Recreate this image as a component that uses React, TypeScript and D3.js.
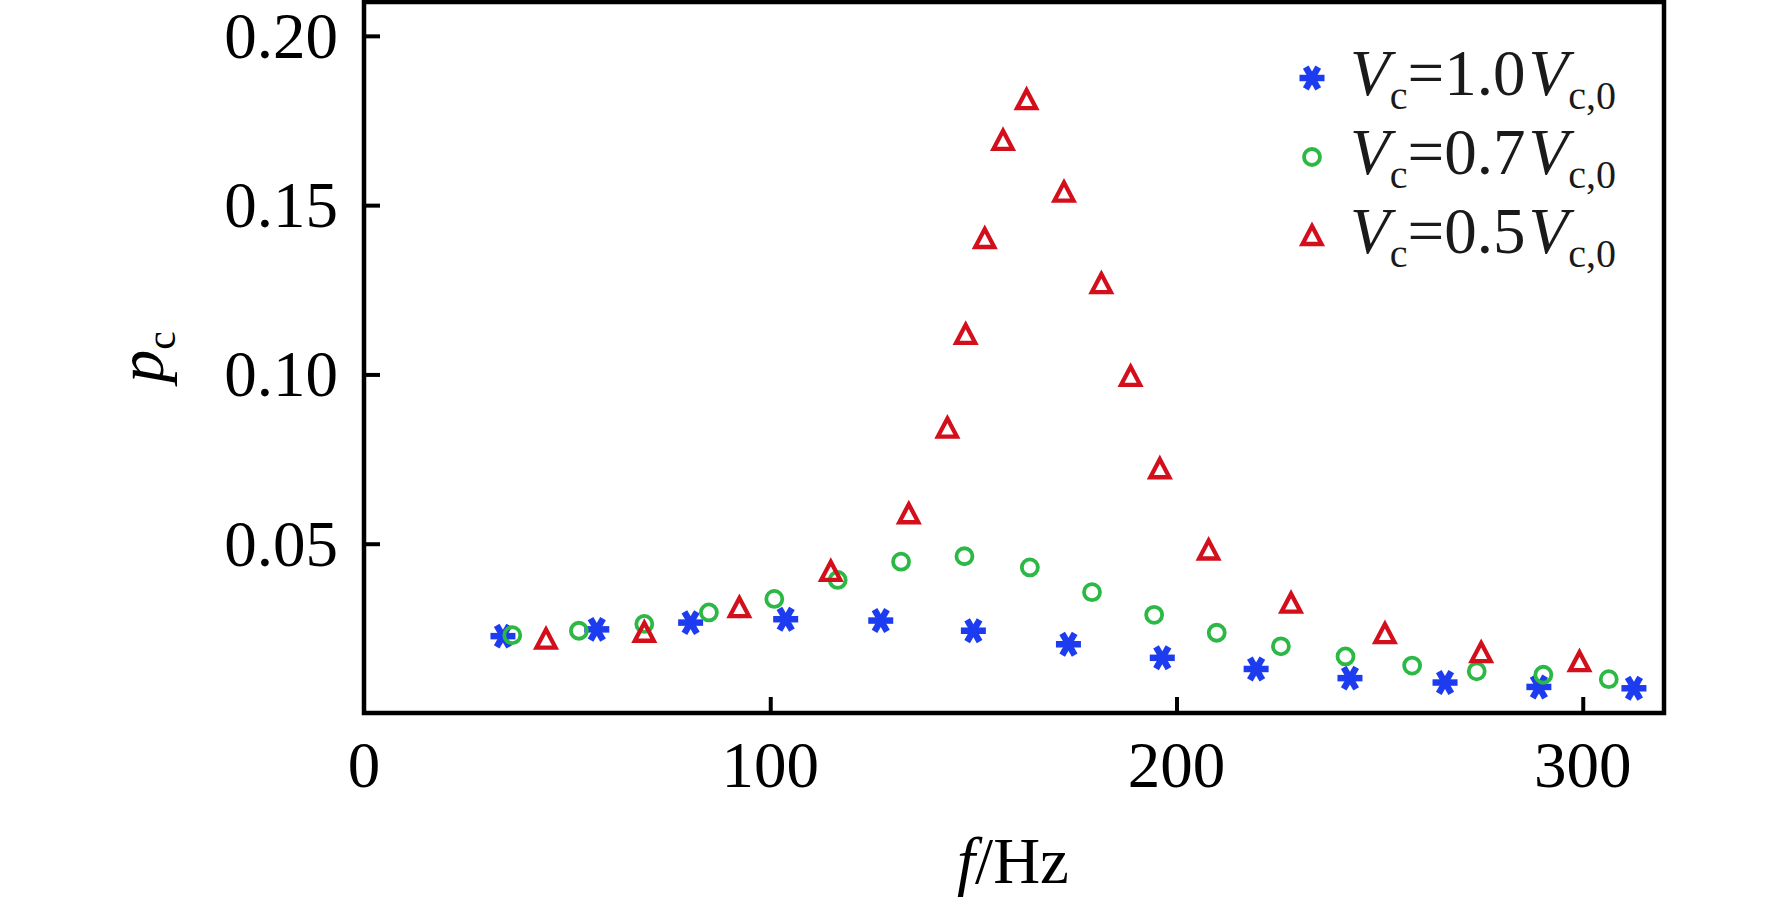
import { useEffect, useRef } from "react";
import * as d3 from "d3";

// frequencies (Hz) and p_c values
const starF = [34.2, 57.3, 80.4, 103.8, 127.2, 150.0, 173.4, 196.5, 219.6, 242.7, 266.1, 289.2, 312.6];
const starP = [0.0227, 0.0247, 0.0267, 0.0277, 0.0273, 0.0243, 0.0203, 0.0163, 0.013, 0.0103, 0.009, 0.0077, 0.0073];

const circF = [36.5, 52.9, 69.0, 84.9, 101.0, 116.6, 132.2, 147.8, 163.9, 179.2, 194.5, 209.9, 225.7, 241.6, 258.0, 273.9, 290.3, 306.4];
const circP = [0.023, 0.0243, 0.0263, 0.0297, 0.0337, 0.0393, 0.0447, 0.0463, 0.043, 0.0357, 0.029, 0.0237, 0.0197, 0.0167, 0.014, 0.0123, 0.0113, 0.01];

const triF = [44.8, 69.0, 92.4, 114.9, 134.1, 143.6, 148.1, 152.8, 157.3, 163.1, 172.3, 181.5, 188.7, 195.9, 207.9, 228.2, 251.3, 275.0, 299.2];
const triP = [0.0217, 0.0237, 0.031, 0.0417, 0.0587, 0.084, 0.1117, 0.14, 0.169, 0.181, 0.1537, 0.1267, 0.0993, 0.072, 0.048, 0.0323, 0.0233, 0.0177, 0.015];

const xTicks = [0, 100, 200, 300];
const yTicks = [0.05, 0.1, 0.15, 0.2];
const legendRatios = ["1.0", "0.7", "0.5"];

const BLUE = "#1d3cf0";
const GREEN = "#2cb845";
const RED = "#d40f1c";
const FONT = "'Liberation Serif', 'Times New Roman', serif";

type Kind = "star" | "circle" | "tri";

function drawMarker(g: d3.Selection<SVGGElement, unknown, null, undefined>, kind: Kind, cx: number, cy: number) {
  if (kind === "star") {
    const r = 12.5;
    const angles = [0, 60, 120];
    angles.forEach((a) => {
      const rad = (a * Math.PI) / 180;
      g.append("line")
        .attr("x1", cx - r * Math.cos(rad))
        .attr("y1", cy - r * Math.sin(rad))
        .attr("x2", cx + r * Math.cos(rad))
        .attr("y2", cy + r * Math.sin(rad))
        .attr("stroke", BLUE)
        .attr("stroke-width", 6.5);
    });
  } else if (kind === "circle") {
    g.append("circle")
      .attr("cx", cx)
      .attr("cy", cy)
      .attr("r", 8)
      .attr("fill", "none")
      .attr("stroke", GREEN)
      .attr("stroke-width", 3.8);
  } else {
    const s = 10;
    g.append("path")
      .attr("d", `M${cx},${cy - s}L${cx + s * 0.95},${cy + s * 0.8}L${cx - s * 0.95},${cy + s * 0.8}Z`)
      .attr("fill", "none")
      .attr("stroke", RED)
      .attr("stroke-width", 4.3)
      .attr("stroke-linejoin", "miter");
  }
}

export default function App() {
  const svgRef = useRef<SVGSVGElement | null>(null);

  useEffect(() => {
    if (!svgRef.current) return;
    const svg = d3.select(svgRef.current);
    svg.selectAll("*").remove();

    const left = 364, right = 1664, top = 2, bottom = 713;

    const x = d3.scaleLinear().domain([0, 320]).range([left, right]);
    const y = d3.scaleLinear().domain([0, 0.21]).range([bottom, top]);

    const g = svg.append("g");

    // ticks (inward)
    g.append("g")
      .attr("transform", `translate(0,${bottom})`)
      .call(d3.axisBottom(x).tickValues(xTicks.slice(1)).tickSizeInner(-16).tickSizeOuter(0).tickFormat(() => ""))
      .call((a) => a.select(".domain").remove())
      .call((a) => a.selectAll("line").attr("stroke", "#000").attr("stroke-width", 4));

    g.append("g")
      .attr("transform", `translate(${left},0)`)
      .call(d3.axisLeft(y).tickValues(yTicks).tickSizeInner(-16).tickSizeOuter(0).tickFormat(() => ""))
      .call((a) => a.select(".domain").remove())
      .call((a) => a.selectAll("line").attr("stroke", "#000").attr("stroke-width", 4));

    // frame
    g.append("rect")
      .attr("x", left)
      .attr("y", top)
      .attr("width", right - left)
      .attr("height", bottom - top)
      .attr("fill", "none")
      .attr("stroke", "#000")
      .attr("stroke-width", 4.5);

    // tick labels
    g.selectAll(".xt")
      .data(xTicks)
      .join("text")
      .attr("x", (d) => x(d))
      .attr("y", 787)
      .attr("text-anchor", "middle")
      .attr("font-family", FONT)
      .attr("font-size", 65)
      .text((d) => d3.format("d")(d));

    g.selectAll(".yt")
      .data(yTicks)
      .join("text")
      .attr("x", 338)
      .attr("y", (d) => y(d) + 22)
      .attr("text-anchor", "end")
      .attr("font-family", FONT)
      .attr("font-size", 65)
      .text((d) => d3.format(".2f")(d));

    // axis titles
    const xl = g.append("text")
      .attr("x", 1013)
      .attr("y", 883)
      .attr("text-anchor", "middle")
      .attr("font-family", FONT)
      .attr("font-size", 65);
    xl.append("tspan").attr("font-style", "italic").text("f");
    xl.append("tspan").text("/Hz");

    const yl = g.append("text")
      .attr("transform", "translate(163,357) rotate(-90)")
      .attr("text-anchor", "middle")
      .attr("font-family", FONT)
      .attr("font-size", 66);
    yl.append("tspan").attr("font-style", "italic").text("p");
    yl.append("tspan").attr("font-size", 42).attr("dy", 12).text("c");

    // points
    const pts = g.append("g");
    starF.forEach((f, i) => drawMarker(pts, "star", x(f), y(starP[i])));
    circF.forEach((f, i) => drawMarker(pts, "circle", x(f), y(circP[i])));
    triF.forEach((f, i) => drawMarker(pts, "tri", x(f), y(triP[i])));

    // legend
    const kinds: Kind[] = ["star", "circle", "tri"];
    const lg = g.append("g");
    legendRatios.forEach((r, i) => {
      const base = 95 + i * 79;
      drawMarker(lg, kinds[i], 1312, base - 17);
      const t = lg.append("text")
        .attr("x", 1350)
        .attr("y", base)
        .attr("font-family", FONT)
        .attr("font-size", 65)
        .attr("fill", "#1a1a1a");
      t.append("tspan").attr("font-style", "italic").text("V");
      t.append("tspan").attr("font-size", 40).attr("dy", 14).text("c");
      t.append("tspan").attr("dy", -14).text(`=${r}`);
      t.append("tspan").attr("font-style", "italic").attr("dx", 3).text("V");
      t.append("tspan").attr("font-size", 40).attr("dy", 14).text("c,0");
    });
  }, []);

  return (
    <svg
      ref={svgRef}
      width={1772}
      height={904}
      style={{ position: "absolute", left: 0, top: 0, background: "#fff" }}
    />
  );
}
